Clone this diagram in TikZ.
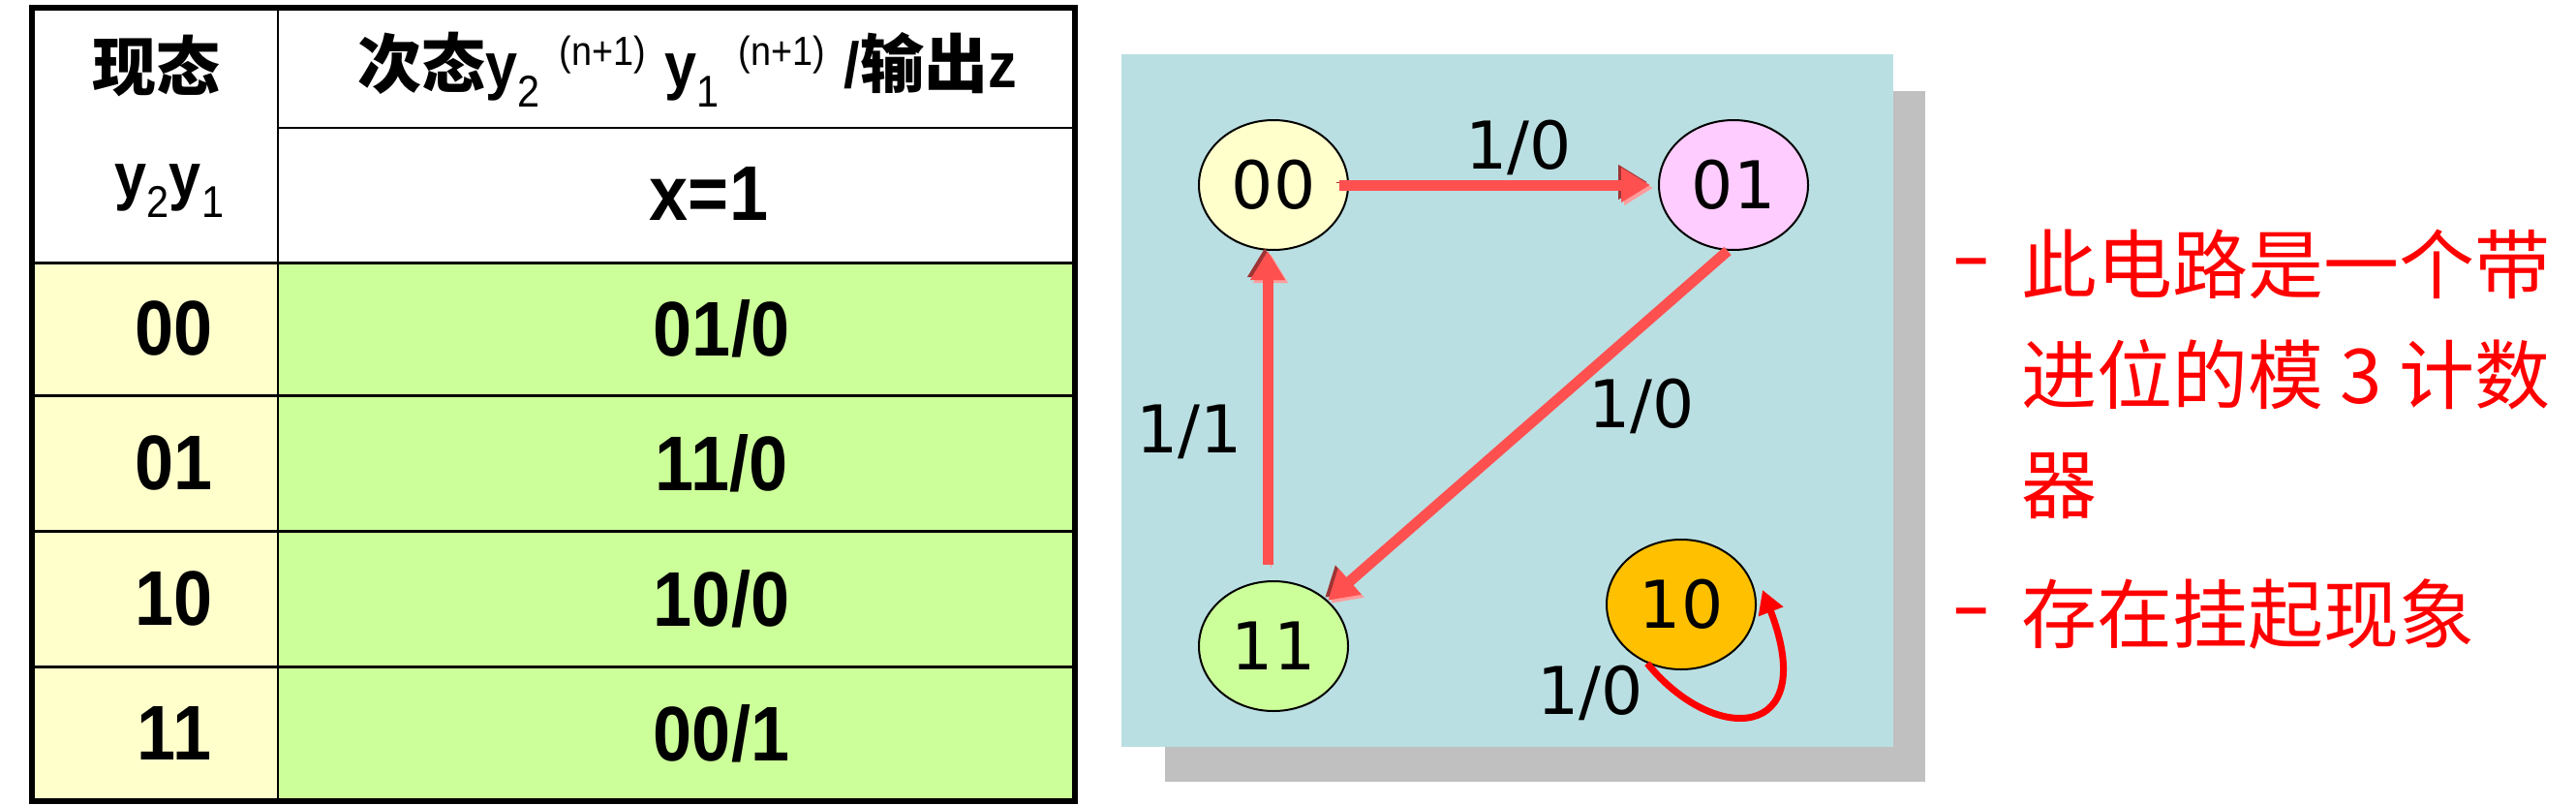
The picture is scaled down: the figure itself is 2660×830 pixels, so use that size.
\documentclass[tikz,border=0pt]{standalone}
\usepackage{fontspec}
\usetikzlibrary{shapes.geometric,arrows.meta}
\newfontfamily\tabfont{Liberation Sans}[FakeStretch=0.9]
\newfontfamily\cjkfont{Noto Sans CJK SC}
\newfontfamily\diafont{DejaVu Sans}
\newfontfamily\dashfont{Liberation Sans}
\definecolor{curfill}{HTML}{FFFFCC}
\definecolor{nxtfill}{HTML}{CCFF99}
\definecolor{panelblue}{HTML}{BADFE2}
\definecolor{shadowgray}{HTML}{C0C0C0}
\definecolor{st00}{HTML}{FFFFCC}
\definecolor{st01}{HTML}{FFCCFF}
\definecolor{st11}{HTML}{CCFF99}
\definecolor{st10}{HTML}{FFC000}
\definecolor{arrowred}{HTML}{FF5050}
\definecolor{arrowdark}{HTML}{9E3434}
\definecolor{arrowpink}{HTML}{FF9C9C}
\newcommand{\subvar}[1]{y\raisebox{-0.3em}{\mdseries\fontsize{23}{23}\selectfont #1}}
\newcommand{\nsvar}[1]{\subvar{#1}\hspace{0.3em}\raisebox{0.36em}{\mdseries\fontsize{21}{21}\selectfont (n+1)}\hspace{0.3em}}
\begin{document}
\begin{tikzpicture}[x = 0.5pt, y = -0.5pt,
	cell/.style = {inner sep = 0, font = \tabfont\bfseries\fontsize{40}{42}\selectfont},
	head/.style = {inner sep = 0, font = \tabfont\bfseries\fontsize{33}{36}\selectfont},
	state/.style = {shape = ellipse, draw = black, line width = 1pt, minimum width = 77pt, minimum height = 67pt, inner sep = 0, font = \diafont\fontsize{34}{36}\selectfont},
	trlabel/.style = {inner sep = 0, font = \diafont\fontsize{34}{36}\selectfont},
	fatarrow/.style = {draw = arrowred, line width = 5.5pt, -{Triangle[length = 15pt, width = 17pt]},
		preaction = {draw = arrowdark, transform canvas = {shift = {(-1.5pt, 1.5pt)}}},
		preaction = {draw = arrowpink, transform canvas = {shift = {(1.5pt, -1.5pt)}}}},
	loopline/.style = {draw = red, line width = 3.5pt, -{Triangle[length = 12pt, width = 13pt]}},
	note/.style = {anchor = west, inner sep = 0, text = red, font = \cjkfont\fontsize{39}{40}\selectfont},
	dashmark/.style = {inner sep = 0, text = red, font = \dashfont\bfseries\fontsize{31}{33}\selectfont}]
	\useasboundingbox (0, 0) rectangle (2660, 830);
	\fill[white] (0, 0) rectangle (2660, 830);

	\fill[curfill] (33, 271) rectangle (287, 827);
	\fill[nxtfill] (287, 271) rectangle (1110, 827);
	\draw[line width = 1pt] (287, 8) -- (287, 827);
	\draw[line width = 1pt] (287, 132) -- (1110, 132);
	\foreach \y in {271, 408, 548, 688}{
		\draw[line width = 1.5pt] (33, \y) -- (1110, \y);}
	\draw[line width = 3pt] (33, 8) rectangle (1110, 827);

	\node[head, font = \cjkfont\bfseries\fontsize{33}{36}\selectfont] (cur) at (161, 68) {现态};
	\node[head] (curvar) at (175, 197) {\subvar{2}\subvar{1}};
	\node[head] (nxt) at (710, 72) {{\cjkfont 次态}\nsvar{2}\nsvar{1}/{\cjkfont 输出}z};
	\node[cell] (xin) at (732, 200) {x=1};
	\foreach \cur/\nst/\out/\y [count = \i] in {00/01/0/339, 01/11/0/478, 10/10/0/618, 11/00/1/757}{
		\node[cell] (c\i) at (180, \y) {\cur};
		\node[cell] (n\i) at (745, \y) {\nst/\out};}

	\fill[shadowgray] (1203, 94) rectangle (1988, 807);
	\fill[panelblue] (1158, 56) rectangle (1955, 771);
	\node[state, fill = st00] (s00) at (1315, 191) {00};
	\node[state, fill = st01] (s01) at (1790, 191) {01};
	\node[state, fill = st11] (s11) at (1315, 667) {11};
	\node[state, fill = st10] (s10) at (1736, 624) {10};

	\draw[fatarrow] ([xshift = -5pt] s00.east) -- ([xshift = -4pt] s01.west);
	\draw[fatarrow] ([shift = {(-3pt, 8pt)}] s11.north) -- ([xshift = -3pt] s00.south);
	\draw[fatarrow] ([xshift = -3pt] s01.south) -- (s11.40);
	\draw[loopline] (s10.240) .. controls (1770, 770) and (1880, 765) .. ([shift = {(3pt, 7.5pt)}] s10.east);

	\node[trlabel] (l0001) at (1568, 152) {1/0};
	\node[trlabel] (l0111) at (1695, 419) {1/0};
	\node[trlabel] (l1100) at (1228, 446) {1/1};
	\node[trlabel] (l1010) at (1642, 715) {1/0};

	\node[dashmark] (d1) at (2036, 277) {–};
	\node[dashmark] (d2) at (2036, 638) {–};
	\node[note] (t1) at (2087, 273) {此电路是一个带};
	\node[note] (t2) at (2087, 387) {进位的模 3 计数};
	\node[note] (t3) at (2087, 502) {器};
	\node[note] (t4) at (2087, 634) {存在挂起现象};
\end{tikzpicture}
\end{document}
